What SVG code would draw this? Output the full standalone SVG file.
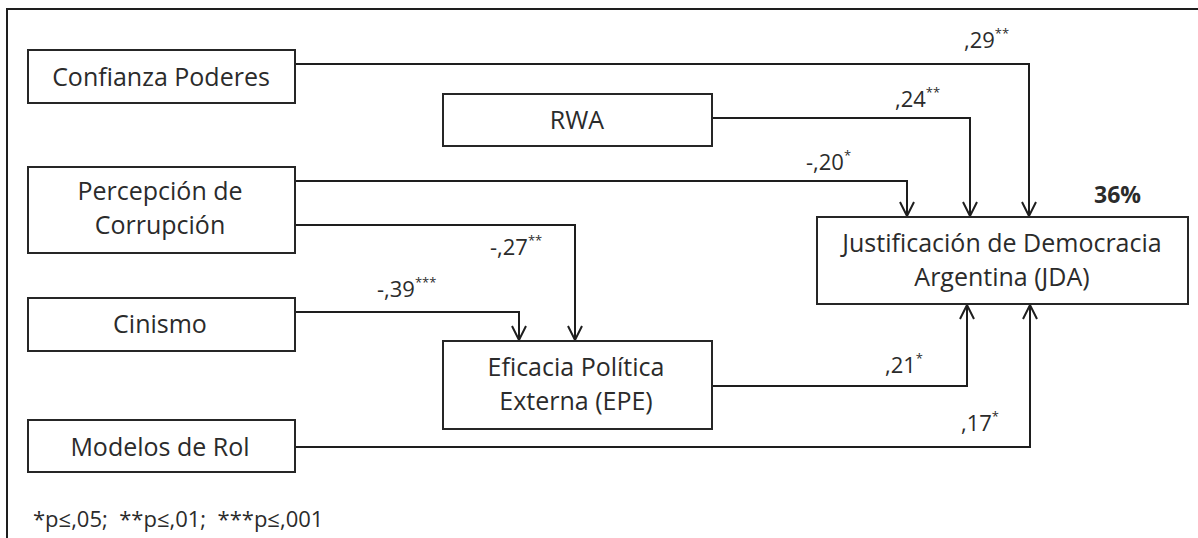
<svg xmlns="http://www.w3.org/2000/svg" width="1198" height="538" viewBox="0 0 1198 538">
  <style>
    .frame { fill: none; stroke: #1e1e1e; stroke-width: 2; }
    .box { fill: #ffffff; stroke: #262626; stroke-width: 2; }
    .label { font-family: "Open Sans", "Noto Sans", sans-serif; font-size: 25px; fill: #2b2b2b; text-anchor: middle; }
    .coef { font-family: "Open Sans", "Noto Sans", sans-serif; font-size: 22px; fill: #2b2b2b; }
    .sig { font-size: 13px; }
    .r2 { font-family: "Open Sans", "Noto Sans", sans-serif; font-size: 23px; font-weight: bold; fill: #2b2b2b; }
    .note { font-family: "Open Sans", "Noto Sans", sans-serif; font-size: 22px; fill: #2b2b2b; white-space: pre; }
    .edge { fill: none; stroke: #1e1e1e; stroke-width: 2; }
  </style>
  <defs>
    <marker id="vee" viewBox="0 0 16 16" refX="15" refY="8" markerWidth="16" markerHeight="16" markerUnits="userSpaceOnUse" orient="auto">
      <path d="M1,1 L15,8 L1,15" fill="none" stroke="#1e1e1e" stroke-width="2"/>
    </marker>
  </defs>

  <rect width="1198" height="538" fill="#ffffff"/>
  <!-- outer frame, open on the right and bottom -->
  <path class="frame" d="M7,538 V9 H1198"/>

  <!-- path connectors -->
  <g id="connectors">
    <path class="edge" marker-end="url(#vee)" d="M295,64 H1029 V216"/>
    <path class="edge" marker-end="url(#vee)" d="M712,118 H970 V216"/>
    <path class="edge" marker-end="url(#vee)" d="M295,181 H907 V216"/>
    <path class="edge" marker-end="url(#vee)" d="M295,225 H575 V340"/>
    <path class="edge" marker-end="url(#vee)" d="M295,312 H519 V340"/>
    <path class="edge" marker-end="url(#vee)" d="M712,386 H967 V305"/>
    <path class="edge" marker-end="url(#vee)" d="M295,447 H1030 V305"/>
  </g>

  <!-- path coefficients -->
  <g id="coefficients">
    <text class="coef" x="964" y="48">,29<tspan class="sig" dy="-10">**</tspan></text>
    <text class="coef" x="895" y="107">,24<tspan class="sig" dy="-10">**</tspan></text>
    <text class="coef" x="806" y="170">-,20<tspan class="sig" dy="-10">*</tspan></text>
    <text class="coef" x="490" y="255">-,27<tspan class="sig" dy="-10">**</tspan></text>
    <text class="coef" x="377" y="297">-,39<tspan class="sig" dy="-10">***</tspan></text>
    <text class="coef" x="885" y="373">,21<tspan class="sig" dy="-10">*</tspan></text>
    <text class="coef" x="961" y="431">,17<tspan class="sig" dy="-10">*</tspan></text>
    <text class="r2" x="1094" y="203">36%</text>
  </g>

  <g id="confianza">
    <rect class="box" x="28" y="50" width="267" height="53"/>
    <text class="label" x="161" y="86">Confianza Poderes</text>
  </g>
  <g id="rwa">
    <rect class="box" x="443" y="94" width="269" height="52"/>
    <text class="label" x="577" y="129">RWA</text>
  </g>
  <g id="percepcion">
    <rect class="box" x="28" y="167" width="267" height="86"/>
    <text class="label" x="160" y="200">Percepción de</text>
    <text class="label" x="160" y="234">Corrupción</text>
  </g>
  <g id="cinismo">
    <rect class="box" x="28" y="298" width="267" height="53"/>
    <text class="label" x="160" y="333">Cinismo</text>
  </g>
  <g id="epe">
    <rect class="box" x="443" y="341" width="269" height="88"/>
    <text class="label" x="576" y="376">Eficacia Política</text>
    <text class="label" x="576" y="410">Externa (EPE)</text>
  </g>
  <g id="modelos">
    <rect class="box" x="28" y="420" width="267" height="52"/>
    <text class="label" x="160" y="456">Modelos de Rol</text>
  </g>
  <g id="jda">
    <rect class="box" x="817" y="217" width="371" height="87"/>
    <text class="label" x="1002" y="252">Justificación de Democracia</text>
    <text class="label" x="1002" y="286">Argentina (JDA)</text>
  </g>

  <text class="note" x="33" y="527">*p≤,05;  **p≤,01;  ***p≤,001</text>
</svg>
